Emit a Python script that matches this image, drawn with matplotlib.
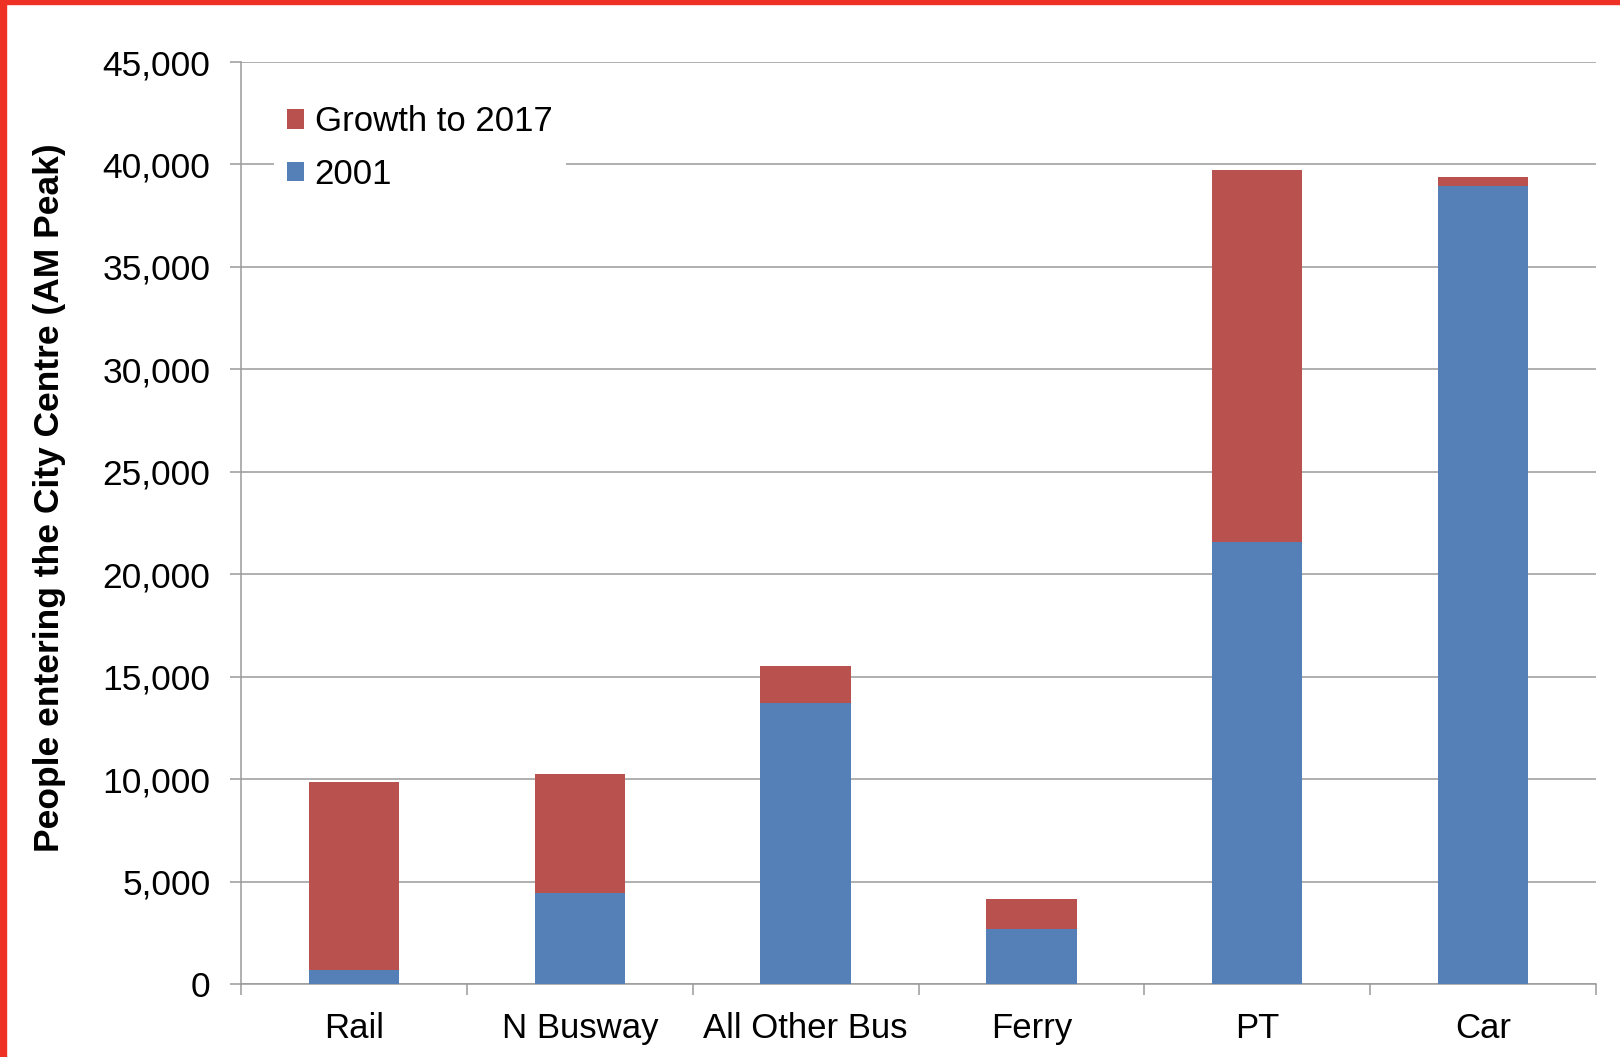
import numpy as np
import matplotlib.pyplot as plt
from matplotlib.patches import Rectangle
from matplotlib.ticker import FuncFormatter

# values
categories = ["Rail", "N Busway", "All Other Bus", "Ferry", "PT", "Car"]
base_2001 = [700, 4450, 13700, 2700, 21550, 38950]
growth_2017 = [9150, 5800, 1800, 1450, 18200, 450]
y_ticks = [0, 5000, 10000, 15000, 20000, 25000, 30000, 35000, 40000, 45000]

RED = '#B9524F'
BLUE = '#547FB7'
GRID = '#9a9a9a'

plt.rcParams['font.family'] = ['Liberation Sans', 'DejaVu Sans']

fig = plt.figure(figsize=(16.2, 10.57), dpi=100)
ax = fig.add_axes([0.1488, 0.0691, 0.8364, 0.8722])

x = np.arange(len(categories))
b1 = ax.bar(x, base_2001, width=0.4, color=BLUE, zorder=3)
b2 = ax.bar(x, growth_2017, width=0.4, bottom=base_2001, color=RED, zorder=3)

ax.set_xlim(-0.5, len(categories) - 0.5)
ax.set_ylim(0, 45000)
ax.set_yticks(y_ticks)
ax.yaxis.set_major_formatter(FuncFormatter(lambda v, p: f"{int(v):,}"))
ax.grid(axis='y', color=GRID, linewidth=1.1, zorder=0)
ax.set_axisbelow(True)

ax.set_xticks(x)
ax.set_xticklabels(categories)
ax.set_xticks(np.arange(-0.5, len(categories)), minor=True)
ax.tick_params(axis='x', which='major', length=0, pad=20, labelsize=25)
ax.tick_params(axis='x', which='minor', length=8, width=1.1, color=GRID, direction='out')
ax.tick_params(axis='y', length=8, width=1.1, color=GRID, pad=14, labelsize=25.5)

for s in ['top', 'right']:
    ax.spines[s].set_visible(False)
for s in ['left', 'bottom']:
    ax.spines[s].set_color(GRID)
    ax.spines[s].set_linewidth(1.1)

ax.set_ylabel("People entering the City Centre (AM Peak)", fontsize=25.5, fontweight='bold')
ax.yaxis.set_label_coords(-0.129, 0.528)

leg = ax.legend([b2, b1], ["Growth to 2017", "2001"], loc='upper left',
                bbox_to_anchor=(0.024, 0.968), fontsize=25, frameon=True,
                facecolor='white', edgecolor='none', framealpha=1, fancybox=False,
                handlelength=0.48, handleheight=0.48, handletextpad=0.3,
                labelspacing=0.55, borderpad=0.4, borderaxespad=0)
leg.set_zorder(5)

# red frame on the left and top edges, as in the source screenshot
fig.patches.append(Rectangle((0, 0), 0.004, 1, transform=fig.transFigure, color='#EE3124', zorder=10))
fig.patches.append(Rectangle((0, 0.996), 1, 0.004, transform=fig.transFigure, color='#EE3124', zorder=10))

fig.savefig("out.png", dpi=100)
